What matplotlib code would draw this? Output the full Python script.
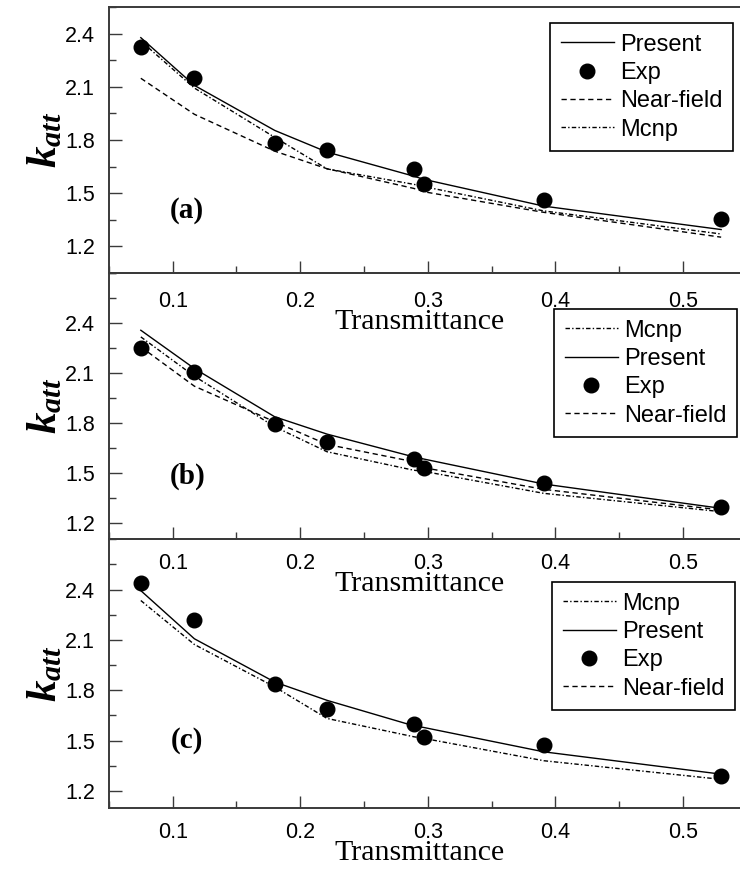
import matplotlib
matplotlib.use('Agg')
import matplotlib.pyplot as plt
from matplotlib.lines import Line2D
from matplotlib.ticker import FixedLocator, MultipleLocator

plt.rcParams['font.family'] = 'Liberation Sans'
plt.rcParams['mathtext.fontset'] = 'custom'
plt.rcParams['mathtext.rm'] = 'Liberation Serif'
plt.rcParams['mathtext.it'] = 'Liberation Serif:italic'
plt.rcParams['mathtext.bf'] = 'Liberation Serif:bold'
plt.rcParams['mathtext.bfit'] = 'Liberation Serif:italic:bold'

# transmittance values shared by all three panels
transmittance = [0.075, 0.117, 0.18, 0.221, 0.289, 0.297, 0.391, 0.53]

# panel (a)
exp_a = [2.324, 2.152, 1.785, 1.741, 1.634, 1.553, 1.459, 1.352]
present_a = [2.377, 2.108, 1.854, 1.732, 1.596, 1.578, 1.427, 1.295]
near_a = [2.148, 1.945, 1.737, 1.638, 1.527, 1.508, 1.392, 1.252]
mcnp_a = [2.358, 2.093, 1.815, 1.637, 1.550, 1.537, 1.400, 1.270]

# panel (b)
exp_b = [2.250, 2.106, 1.792, 1.686, 1.580, 1.526, 1.436, 1.296]
present_b = [2.356, 2.126, 1.836, 1.732, 1.595, 1.582, 1.432, 1.286]
near_b = [2.256, 2.020, 1.806, 1.670, 1.566, 1.530, 1.400, 1.276]
mcnp_b = [2.316, 2.080, 1.776, 1.626, 1.515, 1.508, 1.376, 1.266]

# panel (c) -- near-field only appears in the legend
exp_c = [2.437, 2.216, 1.840, 1.691, 1.598, 1.519, 1.473, 1.289]
present_c = [2.394, 2.107, 1.849, 1.740, 1.588, 1.578, 1.433, 1.300]
mcnp_c = [2.335, 2.073, 1.820, 1.632, 1.523, 1.513, 1.380, 1.269]

y_major = [1.2, 1.5, 1.8, 2.1, 2.4]
x_major = [0.1, 0.2, 0.3, 0.4, 0.5]

DASH = (0, (3.8, 2.6))
DASHDOT = (0, (3.2, 1.6, 1.0, 1.6))
SPINE = '#3a3a3a'

fig = plt.figure(figsize=(7.4, 8.72), dpi=100)
left, width = 0.1472, 0.8618
boxes = [(0.68693, 0.30505), (0.38154, 0.30539), (0.07374, 0.30780)]
axes = [fig.add_axes([left, b, width, h], facecolor='none') for b, h in boxes]


def style(ax, ylim, xpad):
    ax.set_xlim(0.05, 0.55)
    ax.set_ylim(*ylim)
    ax.yaxis.set_major_locator(FixedLocator(y_major))
    ax.yaxis.set_minor_locator(MultipleLocator(0.15))
    ax.xaxis.set_major_locator(FixedLocator(x_major))
    ax.xaxis.set_minor_locator(MultipleLocator(0.05))
    ax.set_yticklabels([f'{v:.1f}' for v in y_major])
    ax.set_xticklabels([f'{v:.1f}' for v in x_major])
    ax.tick_params(which='both', direction='in', color=SPINE, width=1.0,
                   labelsize=15.5, top=False, right=False)
    ax.tick_params(which='major', length=9)
    ax.tick_params(which='minor', length=5)
    ax.tick_params(axis='y', pad=10)
    ax.tick_params(axis='x', pad=xpad)
    for s in ax.spines.values():
        s.set_color(SPINE)
        s.set_linewidth(1.4)
    ax.set_xlabel('Transmittance', family='Liberation Serif', fontsize=21.5,
                  labelpad=-2, x=0.487)
    ax.set_ylabel(r'$\mathbfit{k}_{\mathbfit{att}}$', fontsize=31, labelpad=0)


lw = 1.0
ax = axes[0]
ax.plot(transmittance, present_a, color='black', lw=lw, label='Present')
ax.plot(transmittance, exp_a, 'o', color='black', ms=10.5, label='Exp')
ax.plot(transmittance, near_a, color='black', lw=lw, ls=DASH, label='Near-field')
ax.plot(transmittance, mcnp_a, color='black', lw=lw, ls=DASHDOT, label='Mcnp')
style(ax, (1.05, 2.55), 13)

ax = axes[1]
ax.plot(transmittance, mcnp_b, color='black', lw=lw, ls=DASHDOT, label='Mcnp')
ax.plot(transmittance, present_b, color='black', lw=lw, label='Present')
ax.plot(transmittance, exp_b, 'o', color='black', ms=10.5, label='Exp')
ax.plot(transmittance, near_b, color='black', lw=lw, ls=DASH, label='Near-field')
style(ax, (1.1, 2.7), 10)

ax = axes[2]
ax.plot(transmittance, mcnp_c, color='black', lw=lw, ls=DASHDOT, label='Mcnp')
ax.plot(transmittance, present_c, color='black', lw=lw, label='Present')
ax.plot(transmittance, exp_c, 'o', color='black', ms=10.5, label='Exp')
style(ax, (1.1, 2.7), 10)

leg_kw = dict(loc='upper right', bbox_transform=fig.transFigure, fontsize=17,
              frameon=True, fancybox=False, framealpha=1, edgecolor='black',
              handlelength=2.25, handletextpad=0.25, labelspacing=0.27,
              borderpad=0.45, borderaxespad=0)

h, l = axes[0].get_legend_handles_labels()
lg = axes[0].legend(h, l, bbox_to_anchor=(733 / 740, 1 - 23 / 872), **leg_kw)
lg.get_frame().set_linewidth(1.2)

h, l = axes[1].get_legend_handles_labels()
lg = axes[1].legend(h, l, bbox_to_anchor=(737 / 740, 1 - 309 / 872), **leg_kw)
lg.get_frame().set_linewidth(1.2)

h, l = axes[2].get_legend_handles_labels()
h.append(Line2D([], [], color='black', lw=lw, ls=DASH))
l.append('Near-field')
lg = axes[2].legend(h, l, bbox_to_anchor=(735 / 740, 1 - 582 / 872), **leg_kw)
lg.get_frame().set_linewidth(1.2)

for tag, (px, py) in zip(['(a)', '(b)', '(c)'], [(187, 210), (188, 476), (187, 740)]):
    fig.text(px / 740, 1 - py / 872, tag, family='Liberation Serif',
             weight='bold', fontsize=21, ha='center', va='center')

fig.savefig('out.png', dpi=100)
